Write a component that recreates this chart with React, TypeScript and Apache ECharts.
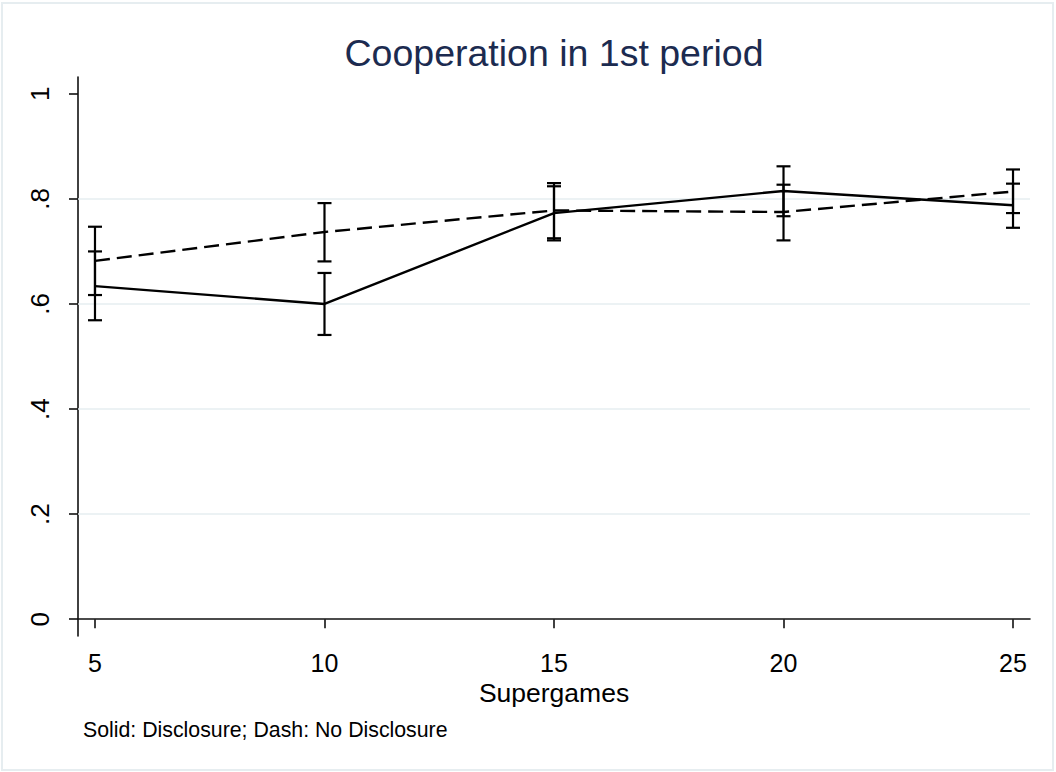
import React, { useEffect, useRef } from "react";
import * as echarts from "echarts";

const supergames = [5, 10, 15, 20, 25];
const disclosure = [0.634, 0.6, 0.773, 0.815, 0.788];
const disclosureLow = [0.569, 0.541, 0.721, 0.767, 0.745];
const disclosureHigh = [0.7, 0.659, 0.824, 0.862, 0.829];
const noDisclosure = [0.682, 0.737, 0.778, 0.775, 0.814];
const noDisclosureLow = [0.617, 0.681, 0.725, 0.721, 0.773];
const noDisclosureHigh = [0.747, 0.792, 0.83, 0.827, 0.856];
const yTicks = [0, 0.2, 0.4, 0.6, 0.8, 1];
const yGrid = [0.2, 0.4, 0.6, 0.8];
const yTickLabels = ["0", ".2", ".4", ".6", ".8", "1"];

const FONT = "'Liberation Sans', Arial, Helvetica, sans-serif";

export default function App() {
  const ref = useRef<HTMLDivElement>(null);
  useEffect(() => {
    document.body.style.margin = "0";
    const chart = echarts.init(ref.current!, null, { renderer: "svg" });
    const errRender = (params: any, api: any) => {
      const x = api.value(0);
      const lo = api.coord([x, api.value(1)]);
      const hi = api.coord([x, api.value(2)]);
      const hw = 7;
      const style = { stroke: "#000", lineWidth: 2.2 };
      return {
        type: "group",
        children: [
          { type: "line", shape: { x1: lo[0], y1: lo[1], x2: hi[0], y2: hi[1] }, style },
          { type: "line", shape: { x1: lo[0] - hw, y1: lo[1], x2: lo[0] + hw, y2: lo[1] }, style },
          { type: "line", shape: { x1: hi[0] - hw, y1: hi[1], x2: hi[0] + hw, y2: hi[1] }, style },
        ],
      };
    };
    chart.setOption({
      animation: false,
      backgroundColor: "#fff",
      textStyle: { fontFamily: FONT },
      title: {
        text: "Cooperation in 1st period",
        left: 549,
        textAlign: "center",
        top: 29,
        textStyle: { fontFamily: FONT, fontSize: 37.5, fontWeight: "normal", color: "#1c2b50" },
      },
      grid: { left: 78, right: 26, top: 77, bottom: 136, containLabel: false },
      xAxis: {
        type: "value",
        min: 4.63,
        max: 25.37,
        name: "Supergames",
        nameLocation: "middle",
        nameGap: 43,
        nameTextStyle: { fontFamily: FONT, fontSize: 26.5, color: "#000" },
        axisLine: { show: true, lineStyle: { color: "#111", width: 1.6 } },
        axisTick: { show: true, length: 9, lineStyle: { color: "#111", width: 1.6 }, customValues: supergames },
        axisLabel: { fontFamily: FONT, fontSize: 25, color: "#000", margin: 14, customValues: supergames },
        splitLine: { show: false },
      },
      yAxis: {
        type: "value",
        min: -0.032,
        max: 1.032,
        axisLine: { show: true, lineStyle: { color: "#111", width: 1.6 } },
        axisTick: { show: true, length: 9, lineStyle: { color: "#111", width: 1.6 }, customValues: yTicks },
        axisLabel: {
          fontFamily: FONT,
          fontSize: 26,
          color: "#000",
          rotate: 90,
          margin: 25,
          customValues: yTicks,
          formatter: (v: number) => {
            const i = yTicks.findIndex((t) => Math.abs(t - v) < 1e-6);
            return i >= 0 ? yTickLabels[i] : "";
          },
        },
        splitLine: { show: false },
      },
      graphic: [
        {
          type: "rect",
          shape: { x: 2, y: 3, width: 1051, height: 767 },
          style: { fill: "none", stroke: "#e6edf0", lineWidth: 2 },
          silent: true,
        },
        {
          type: "text",
          left: 83,
          top: 719,
          style: { text: "Solid: Disclosure; Dash: No Disclosure", font: `21.3px ${FONT}`, fill: "#000" },
        },
      ],
      series: [
        {
          type: "line",
          data: supergames.map((x, i) => [x, disclosure[i]]),
          symbol: "none",
          lineStyle: { color: "#000", width: 2.4 },
          z: 3,
          markLine: {
            silent: true,
            symbol: "none",
            label: { show: false },
            lineStyle: { color: "#e6eef0", width: 1.6, type: "solid" },
            data: yGrid.map((v) => ({ yAxis: v })),
            z: 1,
          },
        },
        {
          type: "line",
          data: supergames.map((x, i) => [x, noDisclosure[i]]),
          symbol: "none",
          lineStyle: { color: "#000", width: 2.4, type: [15, 7] },
          z: 3,
        },
        {
          type: "custom",
          renderItem: errRender,
          data: supergames.map((x, i) => [x, disclosureLow[i], disclosureHigh[i]]),
          z: 4,
        },
        {
          type: "custom",
          renderItem: errRender,
          data: supergames.map((x, i) => [x, noDisclosureLow[i], noDisclosureHigh[i]]),
          z: 4,
        },
      ],
    });
    return () => chart.dispose();
  }, []);
  return <div ref={ref} style={{ width: 1056, height: 772 }} />;
}
